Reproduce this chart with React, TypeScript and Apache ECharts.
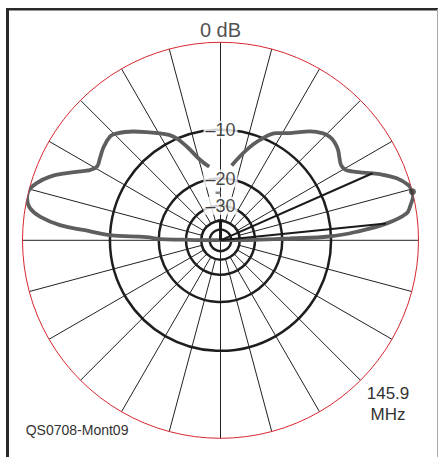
import React, { useEffect, useRef } from "react";
import * as echarts from "echarts";

// ARRL log scale: 0.89 per 2 dB
const toR = (db: number) => Math.pow(0.89, -db / 2);

const R_PX = 198;
const CENTER: [number, number] = [220.5, 240.3];

const RING_DB = [-10, -20, -30, -50];
const INNER_RING_DB = -40;
const SPOKE_STEP = 15;

const LABEL_DB = [-10, -20, -30];
const LABEL_TEXT = ["–10", "–20", "–30"];
const TOP_LABEL = "0 dB";

// Right lobe, elevation angle (deg) and relative gain (dB)
const RIGHT_ANGLE = [81.5, 73.9, 68.5, 62.3, 57, 50.6, 46.2, 43.3, 40.4, 37.5, 34.7, 32, 29.6, 27.7, 25.4, 22.5, 19.4, 16.5, 14.7, 13.2, 10.3, 8.2, 5.8, 3.6, 2.0, 1.5, 0.9, 0.4];
const RIGHT_DB = [-16.5, -12.75, -10.4, -8.45, -7.5, -5.84, -4.97, -4.71, -4.73, -4.97, -5.38, -5.69, -5.56, -4.94, -3.9, -2.35, -0.99, -0.22, 0, 0, -0.45, -0.9, -2.9, -6.4, -10.3, -18, -28, -40];

// Left lobe (backward direction)
const LEFT_ANGLE = [179.6, 179.1, 178.9, 177.6, 177.3, 175.7, 174.6, 172.5, 170.4, 167.7, 165.3, 162.7, 159.5, 156.4, 152.5, 151.7, 149.1, 145.7, 141.4, 136.8, 134.7, 128.7, 124.3, 119.5, 114.5, 109.8, 104.3, 98.7];
const LEFT_DB = [-40, -28, -20.3, -16.9, -10.0, -6.25, -3.53, -1.44, -0.42, 0, 0, -0.48, -1.45, -2.84, -4.66, -4.97, -5.48, -5.24, -4.82, -4.59, -4.78, -6.02, -7.09, -8.2, -9.47, -11.77, -14.9, -16.8];

// -3 dB beamwidth markers and maximum
const BEAM_ANGLES = [5.8, 23.8];
const BEAM_DB = -3;
const MAX_ANGLE = 14.2;
const MAX_DB = 0;
const STUB_ANGLE = 90;
const STUB_DB = -39.5;

const FREQ_TEXT = ["145.9", "MHz"];
const FILE_TEXT = "QS0708-Mont09";

const FONT = "Liberation Sans, Arial, Helvetica, sans-serif";

export default function App() {
  const ref = useRef<HTMLDivElement>(null);

  useEffect(() => {
    document.body.style.margin = "0";
    if (!ref.current) return;
    const chart = echarts.init(ref.current, undefined, { renderer: "svg" });

    const r40 = R_PX * toR(INNER_RING_DB);
    const polars: any[] = [
      { center: CENTER, radius: [0, R_PX] },
      { center: CENTER, radius: [r40, R_PX] },
      { center: CENTER, radius: [0, r40] },
      ...RING_DB.map((db) => ({ center: CENTER, radius: [0, R_PX * toR(db)] })),
    ];

    const baseAngle = (i: number, extra: any) => ({
      polarIndex: i,
      type: "value",
      min: 0,
      max: 360,
      interval: SPOKE_STEP,
      startAngle: 0,
      clockwise: false,
      axisTick: { show: false },
      axisLabel: { show: false },
      splitArea: { show: false },
      ...extra,
    });

    const ringLine = { show: true, lineStyle: { color: "#1e1e1e", width: 2.5 } };

    const angleAxis: any[] = [
      baseAngle(0, { axisLine: { show: true, lineStyle: { color: "#d7282f", width: 1 } }, splitLine: { show: false } }),
      baseAngle(1, { axisLine: { show: false }, splitLine: { show: true, lineStyle: { color: "#222", width: 1 } } }),
      baseAngle(2, { interval: 90, axisLine: ringLine, splitLine: { show: true, lineStyle: { color: "#222", width: 1 } } }),
      ...RING_DB.map((_, k) => baseAngle(3 + k, { axisLine: ringLine, splitLine: { show: false } })),
    ];

    const radiusAxis = polars.map((_, i) => ({
      polarIndex: i,
      type: "value",
      min: 0,
      max: 1,
      show: false,
    }));

    const pattern = [
      ...RIGHT_ANGLE.map((a, i) => [toR(RIGHT_DB[i]), a]),
      ...LEFT_ANGLE.map((a, i) => [toR(LEFT_DB[i]), a]),
    ];

    const series: any[] = [
      {
        type: "line",
        coordinateSystem: "polar",
        polarIndex: 0,
        data: pattern,
        symbol: "none",
        smooth: 0.4,
        lineStyle: { color: "#5e5e5e", width: 3.8 },
        z: 3,
        silent: true,
      },
      ...BEAM_ANGLES.map((a) => ({
        type: "line",
        coordinateSystem: "polar",
        polarIndex: 0,
        data: [
          [0, a],
          [toR(BEAM_DB), a],
        ],
        symbol: "none",
        lineStyle: { color: "#1a1a1a", width: 2 },
        z: 4,
        silent: true,
      })),
      {
        type: "line",
        coordinateSystem: "polar",
        polarIndex: 0,
        data: [
          [0, STUB_ANGLE],
          [toR(STUB_DB), STUB_ANGLE],
        ],
        symbol: "none",
        lineStyle: { color: "#1a1a1a", width: 3 },
        z: 4,
        silent: true,
      },
      {
        type: "scatter",
        coordinateSystem: "polar",
        polarIndex: 0,
        data: [[toR(STUB_DB), STUB_ANGLE]],
        symbol: "rect",
        symbolSize: [6, 3],
        itemStyle: { color: "#1a1a1a" },
        z: 4,
        silent: true,
      },
      {
        type: "scatter",
        coordinateSystem: "polar",
        polarIndex: 0,
        data: [[toR(MAX_DB), MAX_ANGLE]],
        symbolSize: 7,
        itemStyle: { color: "#333" },
        z: 5,
        silent: true,
      },
      {
        type: "scatter",
        coordinateSystem: "polar",
        polarIndex: 0,
        data: LABEL_DB.map((db, i) => ({ value: [toR(db), 90], name: LABEL_TEXT[i] })),
        symbol: "circle",
        symbolSize: 1,
        itemStyle: { color: "rgba(0,0,0,0)" },
        label: {
          show: true,
          position: "inside",
          formatter: (p: any) => p.name,
          fontFamily: FONT,
          fontSize: 18,
          color: "#151515",
          backgroundColor: "#fff",
          padding: [0, 2],
        },
        z: 6,
        silent: true,
      },
      {
        type: "scatter",
        coordinateSystem: "polar",
        polarIndex: 0,
        data: [{ value: [1, 90], name: TOP_LABEL }],
        symbol: "circle",
        symbolSize: 1,
        itemStyle: { color: "rgba(0,0,0,0)" },
        label: {
          show: true,
          position: "top",
          distance: 2,
          formatter: (p: any) => p.name,
          fontFamily: FONT,
          fontSize: 20,
          color: "#222",
        },
        z: 6,
        silent: true,
      },
    ];

    const graphic: any[] = [
      { type: "line", shape: { x1: 7.5, y1: 8, x2: 7.5, y2: 457 }, style: { stroke: "#2a2a2a", lineWidth: 3 }, z: 10 },
      { type: "line", shape: { x1: 6, y1: 9.3, x2: 438, y2: 9.3 }, style: { stroke: "#2a2a2a", lineWidth: 2.5 }, z: 10 },
      { type: "line", shape: { x1: 437.5, y1: 9, x2: 437.5, y2: 457 }, style: { stroke: "#aaa", lineWidth: 1 }, z: 10 },
      { type: "rect", shape: { x: 215.5, y: 191.5, width: 5, height: 2.5 }, style: { fill: "#888" }, z: 10 },
      {
        type: "text",
        x: 388,
        y: 393,
        style: { text: FREQ_TEXT[0], fontFamily: FONT, fontSize: 17, fill: "#333", align: "center", verticalAlign: "middle" },
        z: 10,
      },
      {
        type: "text",
        x: 388,
        y: 414,
        style: { text: FREQ_TEXT[1], fontFamily: FONT, fontSize: 17, fill: "#333", align: "center", verticalAlign: "middle" },
        z: 10,
      },
      {
        type: "text",
        x: 25.7,
        y: 430,
        style: { text: FILE_TEXT, fontFamily: FONT, fontSize: 14, fill: "#333", align: "left", verticalAlign: "middle" },
        z: 10,
      },
    ];

    chart.setOption({
      animation: false,
      backgroundColor: "#fff",
      polar: polars,
      angleAxis,
      radiusAxis,
      series,
      graphic,
    });

    return () => chart.dispose();
  }, []);

  return (
    <div
      ref={ref}
      style={{ position: "fixed", left: 0, top: 0, width: 438, height: 457, background: "#fff" }}
    />
  );
}
